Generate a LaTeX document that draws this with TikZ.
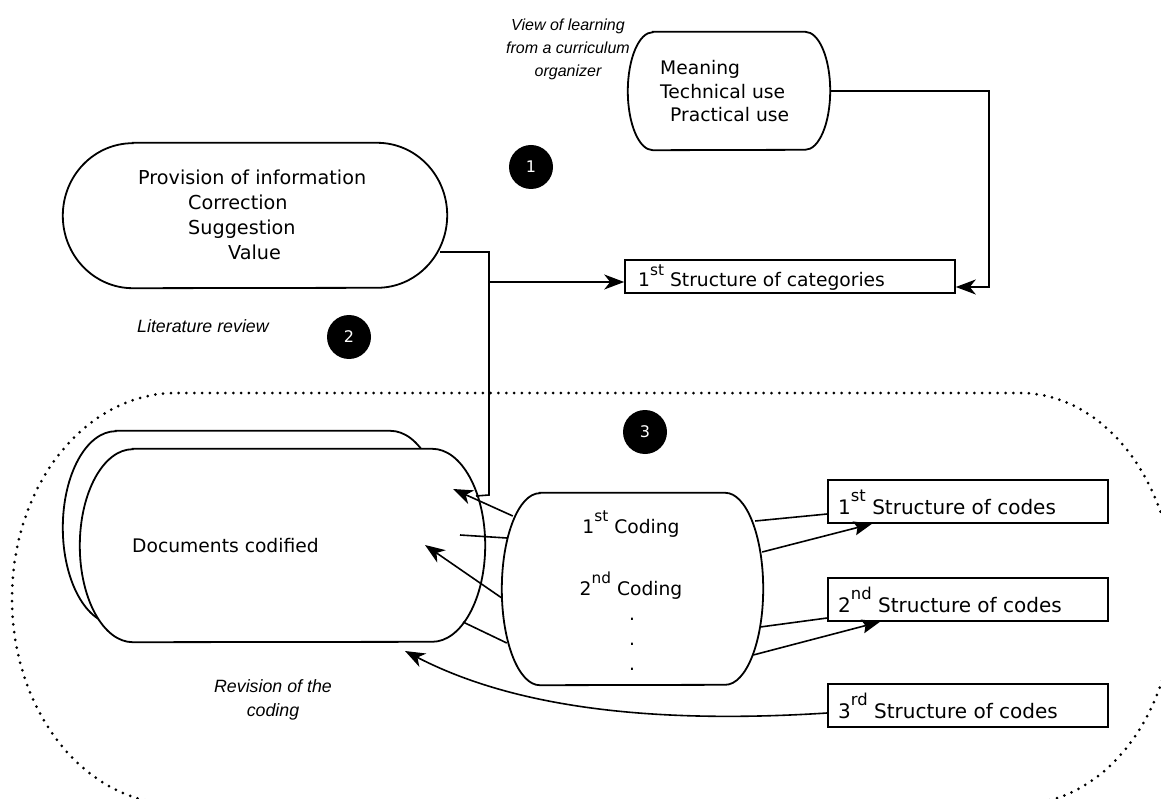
\documentclass[tikz,border=0pt]{standalone}
\usepackage{fontspec}
\setmainfont{DejaVu Sans}
\newfontfamily\labfont{Liberation Sans}
\usetikzlibrary{arrows.meta,calc}
\newcommand{\supr}[1]{\raisebox{0.62em}{\fontsize{0.82em}{1em}\selectfont #1}}
\newcommand{\myoval}[3]{%
  \draw[outl] ([xshift=#2]#1.north west) -- ([xshift=-#2]#1.north east)
    arc[start angle=90,end angle=-90,x radius=#2,y radius=#3]
    -- ([xshift=#2]#1.south west)
    arc[start angle=270,end angle=90,x radius=#2,y radius=#3] -- cycle;}
\begin{document}
\begin{tikzpicture}[x=1pt,y=-1pt,
  outl/.style={line width=1.8pt, fill=white},
  geom/.style={draw=none, inner sep=0pt},
  txt/.style={inner sep=0pt, font=\fontsize{18.7}{25}\selectfont},
  btxt/.style={inner sep=0pt, font=\fontsize{20}{25}\selectfont},
  ptxt/.style={inner sep=0pt, font=\fontsize{19.2}{25}\selectfont},
  lab/.style={inner sep=0pt, align=center, font=\labfont\itshape\fontsize{17.8}{24}\selectfont},
  slab/.style={inner sep=0pt, align=center, font=\labfont\itshape\fontsize{16}{23}\selectfont},
  numc/.style={circle, fill=black, minimum size=44pt, inner sep=0pt, text=white, font=\fontsize{16}{16}\selectfont},
  sbox/.style={draw, line width=1.6pt, fill=white, inner sep=0pt},
  conn/.style={line width=1.6pt},
  arr/.style={conn, -{Stealth[length=20pt,width=15pt,inset=6pt]}},
  tarr/.style={conn, -{Stealth[length=18pt,width=14pt,inset=3pt]}},
  region/.style={line width=3pt, dash pattern=on 0pt off 7.8pt, line cap=round}]
\clip (0,0) rectangle (1161,799);
\fill[white] (0,0) rectangle (1161,799);

% dotted region (its lower edge lies below the picture)
\draw[region] (176,804)
  arc[start angle=270,end angle=90,x radius=164pt,y radius=205.5pt]
  -- (1020,393)
  arc[start angle=90,end angle=-90,x radius=155pt,y radius=205.5pt];

% shapes
\node[geom, minimum width=384pt, minimum height=145pt] (prov) at (255,215.5) {};
\myoval{prov}{70pt}{72.5pt}
\node[geom, minimum width=202pt, minimum height=118pt] (mean) at (729,91) {};
\myoval{mean}{25pt}{59pt}
\node[sbox, minimum width=330pt, minimum height=33pt] (cat) at (790,276.5) {};
\node[geom, minimum width=380pt, minimum height=193pt] (docb) at (253,527.5) {};
\myoval{docb}{53pt}{96.5pt}
\node[geom, minimum width=405pt, minimum height=193pt] (docf) at (282.5,545.5) {};
\myoval{docf}{53pt}{96.5pt}
\node[geom, minimum width=261pt, minimum height=192pt] (code) at (632.5,589) {};
\myoval{code}{38pt}{96pt}
\node[sbox, minimum width=280pt, minimum height=43pt] (codes1) at (968,501.5) {};
\node[sbox, minimum width=280pt, minimum height=43pt] (codes2) at (968,599.5) {};
\node[sbox, minimum width=280pt, minimum height=43pt] (codes3) at (968,705.5) {};

\node[numc] (n1) at (531,167) {1};
\node[numc] (n2) at (349,337) {2};
\node[numc] (n3) at (645,432) {3};

% coordinates
\coordinate (j1) at (489,252);
\coordinate (j2) at (489,282);
\coordinate (j3) at (489,495);
\coordinate (docin) at (476,496);
\coordinate (ta) at (453,489);
\coordinate (tb) at (460,535);
\coordinate (tc) at (425,545);
\coordinate (td) at (463,622);
\coordinate (trev) at (405,651);

% connectors
\draw[conn] ($(prov.east)+(-7,36.5)$) -- (j1) -- (j3) -- (docin);
\draw[arr] (j2) -- ([yshift=-5.5pt]cat.west);
\draw[arr] (mean.east) -| ($(cat.east)+(33,10.5)$) -- ([yshift=-10.5pt]cat.east);

\draw[arr] ($(code.west)+(11,-73)$) -- (ta);
\draw[conn] ($(code.west)+(5,-51)$) -- (tb);
\draw[arr] ($(code.west)+(0,9)$) -- (tc);
\draw[conn] ($(code.west)+(5,54)$) -- (td);

\draw[conn] ($(code.east)+(-8,-68)$) -- ([yshift=-12.5pt]codes1.west);
\draw[tarr] ($(code.east)+(-1,-37)$) -- ([xshift=-96pt]codes1.south);
\draw[conn] ($(code.east)+(-3,38)$) -- ([yshift=-18.5pt]codes2.west);
\draw[tarr] ($(code.east)+(-10,66)$) -- ([xshift=-88pt]codes2.south);

\draw[arr] ([yshift=-7.5pt]codes3.west) .. controls (610,727) and (490,695) .. (trev);

% texts
\node[ptxt, anchor=base west] (pt1) at (138,185) {Provision of information};
\node[ptxt, anchor=base west] (pt2) at (188,210) {Correction};
\node[ptxt, anchor=base west] (pt3) at (188,235) {Suggestion};
\node[ptxt, anchor=base west] (pt4) at (228,260) {Value};

\node[txt, anchor=base west] (mt1) at (660,75) {Meaning};
\node[txt, anchor=base west] (mt2) at (660,98.3) {Technical use};
\node[txt, anchor=base west] (mt3) at (670,121.7) {Practical use};

\node[txt, anchor=base west] (cattxt) at (638,287) {1\supr{st} Structure of categories};
\node[txt, anchor=base west] (doctxt) at (132,552) {Documents codified};
\node[txt, anchor=base] (ct1) at (631,533) {1\supr{st} Coding};
\node[txt, anchor=base] (ct2) at (631,595) {2\supr{nd} Coding};
\node[txt, anchor=base] (ct3) at (632,620) {.};
\node[txt, anchor=base] (ct4) at (632,645) {.};
\node[txt, anchor=base] (ct5) at (632,670) {.};

\node[btxt, anchor=base west] (st1) at (838,514) {1\supr{st} Structure of codes};
\node[btxt, anchor=base west] (st2) at (838,612) {2\supr{nd} Structure of codes};
\node[btxt, anchor=base west] (st3) at (838,718) {3\supr{rd} Structure of codes};

\node[slab] (lview) at (568,49) {View of learning\\from a curriculum\\organizer};
\node[lab, anchor=base west] (llit) at (137,333) {Literature review};
\node[lab] (lrev) at (273,699.5) {Revision of the\\coding};
\end{tikzpicture}
\end{document}
